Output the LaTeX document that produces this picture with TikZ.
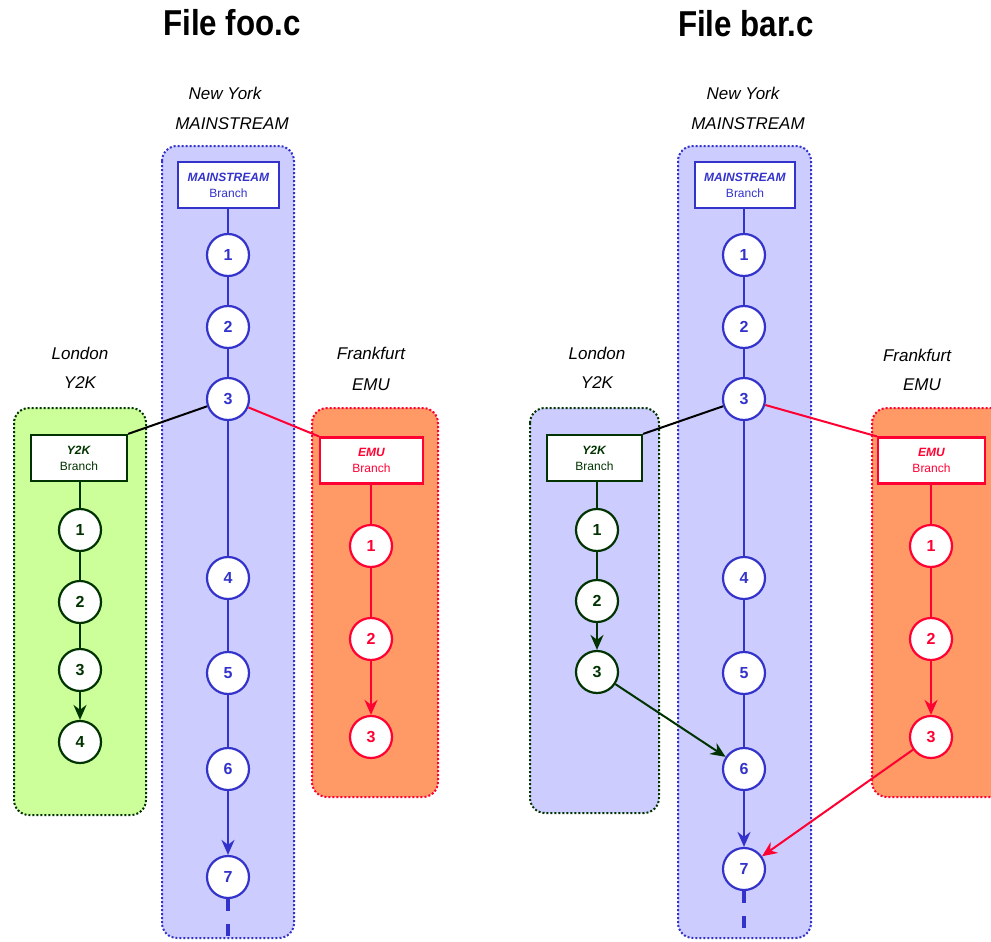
\documentclass[tikz,border=0pt]{standalone}
\usepackage{fontspec}
\setmainfont{Liberation Sans}
\usetikzlibrary{arrows.meta}
\definecolor{bl}{HTML}{3333CC}
\definecolor{blfill}{HTML}{CCCCFF}
\definecolor{gr}{HTML}{003300}
\definecolor{grfill}{HTML}{CCFF99}
\definecolor{rd}{HTML}{FF0033}
\definecolor{orfill}{HTML}{FF9966}
\tikzset{
  col/.style={line width=2pt, dotted, rounded corners=15pt},
  rev/.style={circle, draw, fill=white, line width=2.2pt, minimum size=42pt, inner sep=0pt, font=\fontsize{16}{18}\selectfont\bfseries},
  brbox/.style={draw, fill=white, line width=2.2pt, minimum height=46pt, align=center, inner sep=2pt, font=\fontsize{12}{16}\selectfont},
  lbl/.style={font=\fontsize{17}{20}\selectfont\itshape},
  ttl/.style={font=\fontsize{36}{40}\selectfont\bfseries},
  con/.style={line width=2pt},
  arr/.style={line width=2pt, -{Stealth[length=15pt,width=13pt]}},
  tail/.style={line width=4pt, dash pattern=on 12pt off 13pt},
}
\begin{document}
\begin{tikzpicture}[x=1pt,y=-1pt]
\clip (0,0) rectangle (991,942);
\fill[white] (0,0) rectangle (991,942);
% ================= LEFT PANEL =================
\node[ttl] (t1) at (232,23) {\scalebox{0.87}[1]{File foo.c}};
\node[lbl] (ny1) at (225,93) {New York};
\node[lbl] (ms1) at (232,124) {MAINSTREAM};
\node[lbl] (lo1) at (80,353) {London};
\node[lbl] (yk1) at (80,383) {Y2K};
\node[lbl] (fr1) at (371,353) {Frankfurt};
\node[lbl] (em1) at (371,385) {EMU};
\draw[col, draw=bl, fill=blfill] (162,146) rectangle (294,938);
\draw[col, draw=gr, fill=grfill] (14,408) rectangle (146,815);
\draw[col, draw=rd, fill=orfill] (312,408) rectangle (438,797);
\node[brbox, draw=bl, text=bl, minimum width=101pt] (mb1) at (228.5,185) {\textbf{\textit{MAINSTREAM}}\\Branch};
\node[brbox, draw=gr, text=gr, minimum width=96pt] (yb1) at (79,458) {\textbf{\textit{Y2K}}\\Branch};
\node[brbox, draw=rd, text=rd, minimum width=103pt] (eb1) at (371.5,460.5) {\textbf{\textit{EMU}}\\Branch};
\begin{scope}[every node/.style={rev, draw=bl, text=bl}]
\node (a1) at (228,255) {1};
\node (a2) at (228,327) {2};
\node (a3) at (228,399) {3};
\node (a4) at (228,578) {4};
\node (a5) at (228,673) {5};
\node (a6) at (228,769) {6};
\node (a7) at (228,877) {7};
\end{scope}
\begin{scope}[every node/.style={rev, draw=gr, text=gr}]
\node (g1) at (80,530) {1};
\node (g2) at (80,602) {2};
\node (g3) at (80,670) {3};
\node (g4) at (80,742) {4};
\end{scope}
\begin{scope}[every node/.style={rev, draw=rd, text=rd}]
\node (r1) at (371,546) {1};
\node (r2) at (371,639) {2};
\node (r3) at (371,737) {3};
\end{scope}
\coordinate (e1) at (228,938);
\draw[con, bl] (mb1.south -| a1) -- (a1);
\draw[con, bl] (a1) -- (a2);
\draw[con, bl] (a2) -- (a3);
\draw[con, bl] (a3) -- (a4);
\draw[con, bl] (a4) -- (a5);
\draw[con, bl] (a5) -- (a6);
\draw[arr, bl] (a6) -- (a7);
\draw[tail, bl] (a7.south) -- (e1);
\draw[con, gr] (yb1.south -| g1) -- (g1);
\draw[con, gr] (g1) -- (g2);
\draw[con, gr] (g2) -- (g3);
\draw[arr, gr] (g3) -- (g4);
\draw[con, rd] (eb1.south -| r1) -- (r1);
\draw[con, rd] (r1) -- (r2);
\draw[arr, rd] (r2) -- (r3);
\draw[con, black] (a3) -- (yb1.north east);
\draw[con, rd] (a3) -- (eb1.north west);
% ================= RIGHT PANEL =================
\node[ttl] (t2) at (746,24) {\scalebox{0.87}[1]{File bar.c}};
\node[lbl] (ny2) at (743,93) {New York};
\node[lbl] (ms2) at (748,124) {MAINSTREAM};
\node[lbl] (lo2) at (597,353) {London};
\node[lbl] (yk2) at (597,383) {Y2K};
\node[lbl] (fr2) at (917,355) {Frankfurt};
\node[lbl] (em2) at (922,385) {EMU};
\draw[col, draw=bl, fill=blfill] (678,146) rectangle (811,938);
\draw[col, draw=gr, fill=blfill] (530,408) rectangle (659,813);
\draw[col, draw=rd, fill=orfill] (872,408) rectangle (1010,797);
\node[brbox, draw=bl, text=bl, minimum width=100pt] (mb2) at (745,185) {\textbf{\textit{MAINSTREAM}}\\Branch};
\node[brbox, draw=gr, text=gr, minimum width=95pt] (yb2) at (594.5,458) {\textbf{\textit{Y2K}}\\Branch};
\node[brbox, draw=rd, text=rd, minimum width=107pt] (eb2) at (931.5,460.5) {\textbf{\textit{EMU}}\\Branch};
\begin{scope}[every node/.style={rev, draw=bl, text=bl}]
\node (b1) at (744,255) {1};
\node (b2) at (744,327) {2};
\node (b3) at (744,399) {3};
\node (b4) at (744,578) {4};
\node (b5) at (744,673) {5};
\node (b6) at (744,769) {6};
\node (b7) at (744,869) {7};
\end{scope}
\begin{scope}[every node/.style={rev, draw=gr, text=gr}]
\node (h1) at (597,530) {1};
\node (h2) at (597,601) {2};
\node (h3) at (597,672) {3};
\end{scope}
\begin{scope}[every node/.style={rev, draw=rd, text=rd}]
\node (s1) at (931,546) {1};
\node (s2) at (931,639) {2};
\node (s3) at (931,737) {3};
\end{scope}
\coordinate (e2) at (744,938);
\draw[con, bl] (mb2.south -| b1) -- (b1);
\draw[con, bl] (b1) -- (b2);
\draw[con, bl] (b2) -- (b3);
\draw[con, bl] (b3) -- (b4);
\draw[con, bl] (b4) -- (b5);
\draw[con, bl] (b5) -- (b6);
\draw[arr, bl] (b6) -- (b7);
\draw[tail, bl] (b7.south) -- (e2);
\draw[con, gr] (yb2.south -| h1) -- (h1);
\draw[con, gr] (h1) -- (h2);
\draw[arr, gr] (h2) -- (h3);
\draw[con, rd] (eb2.south -| s1) -- (s1);
\draw[con, rd] (s1) -- (s2);
\draw[arr, rd] (s2) -- (s3);
\draw[con, black] (b3) -- (yb2.north east);
\draw[con, rd] (b3) -- (eb2.north west);
\draw[arr, gr] (h3) -- (b6);
\draw[arr, rd] (s3) -- (b7);
\end{tikzpicture}
\end{document}
